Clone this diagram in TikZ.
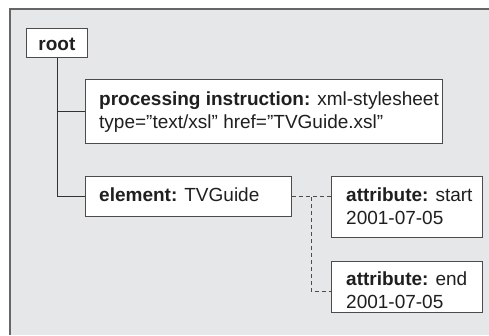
\documentclass[tikz,border=0pt]{standalone}
\usepackage{fontspec}
\setmainfont{Liberation Sans}
\begin{document}
\begin{tikzpicture}[x=1pt,y=-1pt,
  box/.style={draw=black!70, line width=0.9pt, fill=white, inner sep=0pt, anchor=north west},
  txt/.style={text=black!88, inner sep=0pt, anchor=base west, align=left,
    font=\fontsize{19}{23}\selectfont},
  tree/.style={draw=black!80, line width=0.8pt},
  dtree/.style={draw=black!70, line width=0.8pt, dash pattern=on 4pt off 3pt}]
\useasboundingbox (0,0) rectangle (489,335);
\fill[fill={rgb,255:red,230;green,231;blue,233}] (10,9) rectangle (489,335);
\draw[draw=black!60, line width=1.2pt] (489,9) -- (10,9) -- (10,335);
% boxes
\node[box, minimum width=61pt, minimum height=29pt] (root) at (26,28) {};
\node[box, minimum width=357pt, minimum height=64pt] (pi) at (85,79) {};
\node[box, minimum width=206pt, minimum height=40pt] (elem) at (85,176) {};
\node[box, minimum width=151pt, minimum height=61pt] (as) at (331,176) {};
\node[box, minimum width=151pt, minimum height=51pt] (ae) at (331,261) {};
% texts (base anchor = baseline of the last line)
\node[txt, anchor=base] (roott) at ([yshift=-22pt]root.north) {\textbf{root}};
\node[txt] (pit) at ([xshift=14pt,yshift=-49pt]pi.north west) {\textbf{processing instruction:} xml-stylesheet\\type="text/xsl" href="TVGuide.xsl"};
\node[txt] (elemt) at ([xshift=14pt,yshift=-25pt]elem.north west) {\textbf{element:} TVGuide};
\node[txt] (ast) at ([xshift=15pt,yshift=-48.5pt]as.north west) {\textbf{attribute:} start\\2001-07-05};
\node[txt] (aet) at ([xshift=15pt,yshift=-47pt]ae.north west) {\textbf{attribute:} end\\2001-07-05};
% connectors
\coordinate (j) at (311,197);
\draw[tree] (root.south) |- (elem.west);
\draw[tree] (root.south |- pi.west) -- (pi.west);
\draw[dtree] (elem.east) -- (elem.east -| as.west);
\draw[dtree] (j) |- ([yshift=-4.5pt]ae.west);
\end{tikzpicture}
\end{document}
